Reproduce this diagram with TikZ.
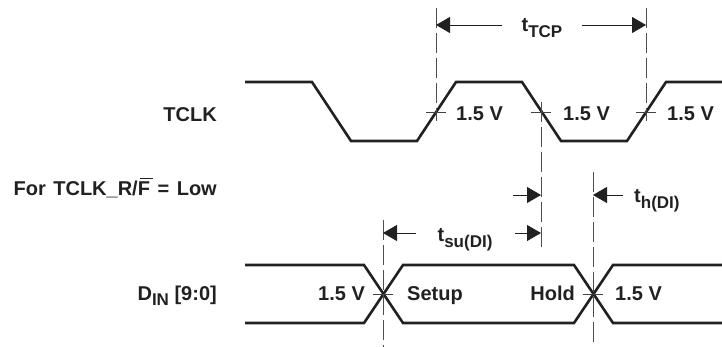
\documentclass[tikz,border=0pt]{standalone}
\usepackage{fontspec}
\setmainfont{Liberation Sans}
\usetikzlibrary{arrows.meta}
\newcommand{\subs}[1]{\raisebox{-0.26em}{\fontsize{17}{19}\selectfont #1}}
\definecolor{ink}{gray}{0.13}
\tikzset{
 x=1pt,y=-1pt,
 wave/.style={draw=ink,line width=2.6pt,line join=miter},
 guide/.style={draw=ink!80,line width=0.8pt,dash pattern=on 20pt off 5pt},
 tickmark/.style={draw=ink!85,line width=0.8pt},
 overbar/.style={draw=ink,line width=1pt},
 dim/.style={draw=ink,line width=0.8pt,-{Triangle[length=14pt,width=16pt]}},
 lbl/.style={font=\fontsize{20}{24}\bfseries\selectfont,text=ink,inner sep=0pt,anchor=base},
 lblr/.style={lbl,anchor=base east},
 lbll/.style={lbl,anchor=base west},
}
\begin{document}
\begin{tikzpicture}
\useasboundingbox (0,0) rectangle (722,347);
% TCLK waveform
\draw[wave] (245,82) -- (312,82) -- (351,141) -- (417,141) -- (456,82) -- (522,82) -- (561,141) -- (627,141) -- (666,82) -- (722,82);
% data waveform
\draw[wave] (245,265) -- (364,265) -- (403,323) -- (574,323) -- (613,265) -- (722,265);
\draw[wave] (245,323) -- (364,323) -- (403,265) -- (574,265) -- (613,323) -- (722,323);
% guides
\coordinate (g1a) at (436,8);  \coordinate (g1b) at (436,121);
\coordinate (g2a) at (646,8);  \coordinate (g2b) at (646,121);
\coordinate (g3a) at (541,102);\coordinate (g3b) at (541,249);
\coordinate (g4a) at (383,220);\coordinate (g4b) at (383,347);
\coordinate (g5a) at (593,172);\coordinate (g5b) at (593,347);
\draw[guide] (g1a) -- (g1b);
\draw[guide] (g2a) -- (g2b);
\draw[guide] (g3a) -- (g3b);
\draw[guide] (g4a) -- (g4b);
\draw[guide] (g5a) -- (g5b);
% ticks
\draw[tickmark] (426,112) -- (446,112);
\draw[tickmark] (531,112) -- (551,112);
\draw[tickmark] (636,112) -- (656,112);
\draw[tickmark] (373,294) -- (393,294);
\draw[tickmark] (583,294) -- (603,294);
% labels
\node[lbl] (tcp) at (542,32) {t\subs{TCP}};
\node[lbl] (tsu) at (465,242) {t\subs{su(DI)}};
\node[lbll] (th) at (634,203) {t\subs{h(DI)}};
\node[lblr] (tclk) at (217,121.5) {TCLK};
\node[lblr] (mode) at (217,196) {For\hspace{2pt} TCLK\_R/F\hspace{2pt} =\hspace{2pt} Low};
\draw[overbar] (140,178.5) -- (153,178.5);
\node[lblr] (din) at (217,300) {D\subs{IN} [9:0]};
\node[lbll] (v1) at (456,121) {1.5 V};
\node[lbll] (v2) at (563,121) {1.5 V};
\node[lbll] (v3) at (667,121) {1.5 V};
\node[lbll] (v4) at (318,300) {1.5 V};
\node[lbll] (setup) at (407,300) {Setup};
\node[lblr] (hold) at (575,300) {Hold};
\node[lbll] (v5) at (615,300) {1.5 V};
% dimension arrows
\coordinate (a1t) at (502,25); \coordinate (a1h) at (436,25);
\coordinate (a2t) at (582,25); \coordinate (a2h) at (646,25);
\coordinate (a3t) at (513,195); \coordinate (a3h) at (541,195);
\coordinate (a4t) at (623,195); \coordinate (a4h) at (593,195);
\coordinate (a5t) at (416,233); \coordinate (a5h) at (383,233);
\coordinate (a6t) at (515,233); \coordinate (a6h) at (541,233);
\draw[dim] (a1t) -- (a1h);
\draw[dim] (a2t) -- (a2h);
\draw[dim] (a3t) -- (a3h);
\draw[dim] (a4t) -- (a4h);
\draw[dim] (a5t) -- (a5h);
\draw[dim] (a6t) -- (a6h);
\end{tikzpicture}
\end{document}
